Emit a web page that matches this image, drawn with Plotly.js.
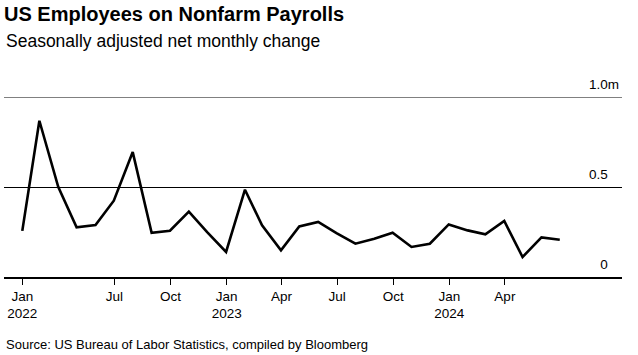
<!DOCTYPE html>
<html>
<head>
<meta charset="utf-8">
<script src="https://cdn.plot.ly/plotly-3.0.1.min.js"></script>
<style>html,body{margin:0;padding:0;background:#fff;}#chart{width:638px;height:355px;}</style>
</head>
<body>
<div id="chart"></div>
<script>
// Month-end dates of each monthly observation (Jan 2022 - Jun 2024)
const dates = [
  "2022-01-31","2022-02-28","2022-03-31","2022-04-30","2022-05-31","2022-06-30",
  "2022-07-31","2022-08-31","2022-09-30","2022-10-31","2022-11-30","2022-12-31",
  "2023-01-31","2023-02-28","2023-03-31","2023-04-30","2023-05-31","2023-06-30",
  "2023-07-31","2023-08-31","2023-09-30","2023-10-31","2023-11-30","2023-12-31",
  "2024-01-31","2024-02-29","2024-03-31","2024-04-30","2024-05-31","2024-06-30"
];
// Net monthly change in payrolls, millions
const payrollChange = [
  0.256, 0.868, 0.500, 0.276, 0.289, 0.424,
  0.694, 0.246, 0.257, 0.363, 0.249, 0.139,
  0.485, 0.287, 0.148, 0.281, 0.306, 0.244,
  0.185, 0.213, 0.246, 0.167, 0.185, 0.292,
  0.259, 0.237, 0.311, 0.111, 0.220, 0.207
];
const xTickVals = ["2022-01-31","2022-07-01","2022-10-01","2023-01-01","2023-04-01","2023-07-01","2023-10-01","2024-01-01","2024-04-01"];
const xTickText = ["Jan<br>2022","Jul","Oct","Jan<br>2023","Apr","Jul","Oct","Jan<br>2024","Apr"];
const yTickVals = [0, 0.5, 1.0];
const yTickText = ["0\u00a0\u00a0\u00a0", "0.5\u00a0\u00a0\u00a0", "1.0m"];

const FONT = "Liberation Sans, Arial, sans-serif";
const PLOT_TOP = 97, PLOT_BOTTOM = 277.3, PLOT_H = PLOT_BOTTOM - PLOT_TOP;

const trace = {
  x: dates, y: payrollChange, type: "scatter", mode: "lines",
  line: {color: "#000000", width: 2.6},
  hoverinfo: "skip"
};

const layout = {
  width: 638, height: 355,
  margin: {l: 4, r: 16, t: 97, b: 78},
  paper_bgcolor: "#ffffff", plot_bgcolor: "#ffffff",
  showlegend: false,
  font: {family: FONT, color: "#000000", size: 13},
  title: {
    text: "<b>US Employees on Nonfarm Payrolls</b>",
    font: {family: FONT, size: 20, color: "#000000"},
    x: 4/638, xanchor: "left", xref: "container",
    y: 1 - 14/355, yanchor: "middle", yref: "container"
  },
  xaxis: {
    type: "date",
    range: ["2022-01-01", "2024-10-10"],
    tickmode: "array", tickvals: xTickVals, ticktext: xTickText,
    ticks: "outside", ticklen: 6, tickcolor: "#000000", tickwidth: 1,
    showgrid: false, zeroline: false,
    showline: true, linecolor: "#000000", linewidth: 1.5,
    tickfont: {family: FONT, size: 13.5, color: "#000000"},
    fixedrange: true
  },
  yaxis: {
    range: [0, 1.0],
    side: "right",
    tickmode: "array", tickvals: yTickVals, ticktext: yTickText,
    ticklabelposition: "inside top",
    ticklabeloverflow: "allow",
    ticks: "", showline: false, zeroline: false,
    showgrid: true, gridcolor: "#000000", gridwidth: 1,
    tickfont: {family: FONT, size: 13.5, color: "#000000"},
    ticklabelshift: -3,
    fixedrange: true
  },
  shapes: [
    {type: "line", xref: "paper", x0: 0, x1: 1, yref: "y", y0: 1.0, y1: 1.0,
     line: {color: "#808080", width: 2.2}, layer: "above"}
  ],
  annotations: [
    {text: "Seasonally adjusted net monthly change",
     xref: "paper", x: 0, xanchor: "left",
     yref: "paper", y: 1 + (PLOT_TOP - 41) / PLOT_H, yanchor: "middle",
     showarrow: false, font: {family: FONT, size: 17.5, color: "#000000"}},
    {text: "Source: US Bureau of Labor Statistics, compiled by Bloomberg",
     xref: "paper", x: 0, xanchor: "left",
     yref: "paper", y: -(345 - PLOT_BOTTOM) / PLOT_H, yanchor: "middle",
     showarrow: false, font: {family: FONT, size: 13, color: "#000000"}}
  ]
};

Plotly.newPlot("chart", [trace], layout, {staticPlot: true, displayModeBar: false});
</script>
</body>
</html>
